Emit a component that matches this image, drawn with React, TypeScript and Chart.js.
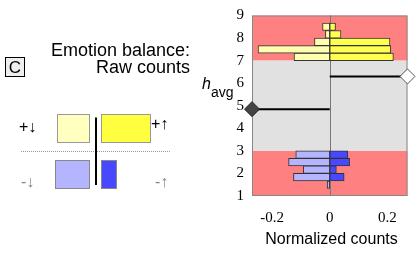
import React, { useEffect, useRef } from "react";
import { Chart, registerables } from "chart.js";

Chart.register(...registerables);

// ---- data ----
const upperBins = [7.167, 7.5, 7.833, 8.167, 8.5];
const upperNeg = [-0.124, -0.249, -0.053, -0.015, -0.025];
const upperPos = [0.221, 0.212, 0.209, 0.039, 0.02];
const lowerBins = [1.5, 1.833, 2.167, 2.5, 2.833];
const lowerNeg = [-0.009, -0.126, -0.092, -0.143, -0.118];
const lowerPos = [0, 0.05, 0.023, 0.069, 0.063];
const upperMean = 6.3;
const lowerMean = 4.85;
const xRange = [-0.27, 0.27];
const yRange = [1, 9];
const xTicks = [-0.2, 0, 0.2];
const redBands = [
  [1, 3],
  [7, 9],
];
const grayBands = [[3, 7]];

const bgPlugin = {
  id: "bgBands",
  beforeDatasetsDraw(chart: any) {
    const { ctx, chartArea: a, scales } = chart;
    const x = scales.x;
    const y = scales.y;
    ctx.save();
    const band = (b: number[], color: string) => {
      const top = y.getPixelForValue(b[1]);
      const bot = y.getPixelForValue(b[0]);
      ctx.fillStyle = color;
      ctx.fillRect(a.left, top, a.right - a.left, bot - top);
    };
    redBands.forEach((b) => band(b, "#ff8080"));
    grayBands.forEach((b) => band(b, "#e1e1e1"));
    ctx.strokeStyle = "#888";
    ctx.lineWidth = 1;
    ctx.strokeRect(a.left + 0.5, a.top + 0.5, a.right - a.left - 1, a.bottom - a.top - 1);
    const zx = Math.round(x.getPixelForValue(0)) + 0.5;
    ctx.strokeStyle = "#777";
    ctx.beginPath();
    ctx.moveTo(zx, a.top);
    ctx.lineTo(zx, a.bottom);
    ctx.stroke();
    ctx.restore();
  },
};

const barCommon = {
  type: "bar" as const,
  grouped: false,
  barPercentage: 1,
  categoryPercentage: 1,
  borderWidth: 1,
  borderColor: "#333",
  borderSkipped: false,
  order: 2,
};

export default function App() {
  const ref = useRef<HTMLCanvasElement | null>(null);
  useEffect(() => {
    if (!ref.current) return;
    const chart = new Chart(ref.current, {
      type: "bar",
      data: {
        datasets: [
          { ...barCommon, data: upperBins.map((h, i) => ({ x: upperNeg[i], y: h })), backgroundColor: "#ffffb0" },
          { ...barCommon, data: upperBins.map((h, i) => ({ x: upperPos[i], y: h })), backgroundColor: "#ffff50" },
          { ...barCommon, data: lowerBins.map((h, i) => ({ x: lowerNeg[i], y: h })), backgroundColor: "#b4b4ff" },
          { ...barCommon, data: lowerBins.map((h, i) => ({ x: lowerPos[i], y: h })), backgroundColor: "#4848ff" },
          {
            type: "line",
            data: [
              { x: 0, y: upperMean },
              { x: xRange[1], y: upperMean },
            ],
            borderColor: "#000",
            borderWidth: 2,
            pointRadius: [0, 7.5],
            pointStyle: "rectRot",
            pointBackgroundColor: "#fff",
            pointBorderColor: "#555",
            pointBorderWidth: 1,
            clip: false,
            order: 0,
          },
          {
            type: "line",
            data: [
              { x: xRange[0], y: lowerMean },
              { x: 0, y: lowerMean },
            ],
            borderColor: "#000",
            borderWidth: 2,
            pointRadius: [7.5, 0],
            pointStyle: "rectRot",
            pointBackgroundColor: "#444",
            pointBorderColor: "#222",
            pointBorderWidth: 1,
            clip: false,
            order: 0,
          },
        ] as any,
      },
      options: {
        indexAxis: "y",
        animation: false,
        responsive: false,
        layout: { padding: { left: 190, right: 5, top: 7, bottom: 0 } },
        plugins: { legend: { display: false }, tooltip: { enabled: false } },
        scales: {
          x: {
            type: "linear",
            min: xRange[0],
            max: xRange[1],
            offset: false,
            grid: { display: false, drawTicks: false },
            border: { display: false },
            afterBuildTicks: (s: any) => {
              s.ticks = xTicks.map((v) => ({ value: v }));
            },
            afterFit: (s: any) => {
              s.height = 59;
            },
            ticks: {
              font: { family: "Liberation Serif", size: 15, lineHeight: 1 },
              color: "#000",
              padding: 15,
              maxRotation: 0,
              callback: (v: any) => String(v),
            },
          },
          y: {
            type: "linear",
            min: yRange[0],
            max: yRange[1],
            offset: false,
            grid: { display: false, drawTicks: false },
            border: { display: false },
            afterFit: (s: any) => {
              s.width = 62;
            },
            ticks: {
              stepSize: 1,
              font: { family: "Liberation Serif", size: 15, lineHeight: 1 },
              color: "#000",
              padding: 8,
            },
          },
        },
      } as any,
      plugins: [bgPlugin],
    });
    return () => chart.destroy();
  }, []);

  const sans = "'Liberation Sans', Arial, sans-serif";
  return (
    <div style={{ position: "absolute", left: 0, top: 0, width: 416, height: 255, background: "#fff" }}>
      <canvas ref={ref} width={416} height={255} style={{ position: "absolute", left: 0, top: 0 }} />
      <svg width={416} height={255} style={{ position: "absolute", left: 0, top: 0, pointerEvents: "none" }} fontFamily={sans}>
        <rect x={5.5} y={57.5} width={19} height={19} fill="#eeeeee" stroke="#000" />
        <text x={15} y={73} fontSize={17} textAnchor="middle" fill="#000">C</text>
        <text x={190} y={55.5} fontSize={18} textAnchor="end" fill="#000">Emotion balance:</text>
        <text x={190} y={72.5} fontSize={18} textAnchor="end" fill="#000">Raw counts</text>

        <text x={19} y={132} fontSize={16} fill="#000">+↓</text>
        <text x={151} y={129} fontSize={16} fill="#000">+↑</text>
        <text x={21} y={187} fontSize={16} fill="#888">-↓</text>
        <text x={155} y={187} fontSize={16} fill="#888">-↑</text>

        <rect x={57.5} y={114.5} width={32} height={28} fill="#ffffc0" stroke="#999" />
        <rect x={101.5} y={114.5} width={49} height={28} fill="#ffff40" stroke="#999" />
        <line x1={21} x2={170} y1={151.5} y2={151.5} stroke="#999" strokeDasharray="1 1" />
        <rect x={55.5} y={160.5} width={34} height={28} fill="#b4b4ff" stroke="#888" />
        <rect x={101.5} y={160.5} width={15} height={28} fill="#4848ff" stroke="#888" />
        <line x1={96} x2={96} y1={117.5} y2={185} stroke="#000" strokeWidth={2} />

        <text x={331.5} y={244} fontSize={16} textAnchor="middle" fill="#000">Normalized counts</text>
        <text x={202} y={89} fontSize={16} fontStyle="italic" fill="#000">h</text>
        <text x={211} y={97} fontSize={14} fill="#000">avg</text>
      </svg>
    </div>
  );
}
